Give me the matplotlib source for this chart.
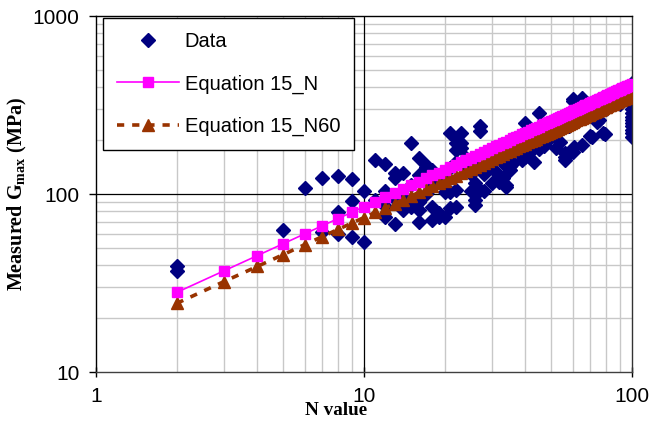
import matplotlib
matplotlib.use('Agg')
import matplotlib.pyplot as plt
from matplotlib.ticker import FixedLocator, NullLocator

# measured data points (N value, Gmax in MPa)
n_data = [2, 2, 5, 6, 7, 7, 8, 8, 8, 9, 9, 9, 10, 10, 11, 11,
          12, 12, 12, 12, 13, 13, 13, 13, 14, 14, 14, 15, 15, 15,
          16, 16, 16, 16, 16, 17, 17, 17, 18, 18, 18, 18, 19, 19, 19,
          20, 20, 20, 21, 21, 21, 21, 22, 22, 22, 22, 22, 22, 23, 23, 23,
          24, 24, 25, 25, 26, 26, 26, 26, 27, 27, 27, 28, 28, 28,
          30, 30, 30, 32, 32, 32, 33, 33, 34, 34, 35, 35, 35, 36, 38, 39,
          40, 40, 40, 42, 43, 43, 45, 45, 47, 47, 50, 50, 52, 54,
          56, 56, 56, 58, 60, 60, 60, 61, 65, 65, 70, 71, 74, 75, 78, 79,
          80, 90, 100, 100, 100, 100, 100, 100, 100, 100, 100, 100, 100,
          100, 100, 100]
g_data = [39.5, 37, 62.7, 108, 123, 61, 126, 79, 60, 121, 91.5, 57.5, 104, 54, 156, 92,
          148, 104, 74, 86, 132, 123, 68, 94, 132, 81, 98, 193, 112, 85,
          159, 70, 81, 90, 128, 146, 142, 100, 85, 71, 110, 136, 74, 78, 120,
          74, 102, 125, 220, 102, 84, 140, 206, 193, 177, 105, 85, 152, 181, 193, 220,
          160, 145, 104, 130, 115, 87, 92, 150, 240, 226, 105, 104, 130, 170,
          115, 140, 180, 128, 117, 160, 123, 150, 112, 110, 143, 136, 165, 150, 170, 156,
          162, 250, 190, 175, 152, 200, 286, 180, 189, 185, 210, 230, 181, 197,
          162, 155, 169, 240, 340, 173, 334, 184, 347, 189, 211, 210, 255, 262, 220, 217,
          300, 320, 210, 220, 230, 240, 250, 260, 270, 285, 300, 320, 340,
          370, 400, 420]

# Equation 15 curves, read at each integer N
n_eq = list(range(2, 101))
g_eq_n = [28.0, 37.0, 45.1, 52.6, 59.7, 66.4, 72.8, 78.9, 84.9, 90.6,
          96.2, 101.7, 107.0, 112.2, 117.3, 122.3, 127.3, 132.1, 136.8, 141.5,
          146.1, 150.7, 155.2, 159.6, 163.9, 168.3, 172.5, 176.8, 180.9, 185.1,
          189.2, 193.2, 197.2, 201.2, 205.2, 209.1, 213.0, 216.8, 220.6, 224.4,
          228.2, 231.9, 235.6, 239.3, 242.9, 246.5, 250.2, 253.7, 257.3, 260.8,
          264.3, 267.8, 271.3, 274.7, 278.2, 281.6, 285.0, 288.3, 291.7, 295.0,
          298.4, 301.7, 305.0, 308.2, 311.5, 314.7, 318.0, 321.2, 324.4, 327.6,
          330.8, 333.9, 337.1, 340.2, 343.3, 346.4, 349.5, 352.6, 355.7, 358.8,
          361.8, 364.8, 367.8, 370.8, 373.8, 376.8, 379.8, 382.8, 385.7, 388.6,
          391.6, 394.5, 397.5, 400.4, 403.3, 406.2, 409.0, 411.9, 414.8]
g_eq_n60 = [24.3, 32.2, 39.2, 45.7, 51.9, 57.7, 63.3, 68.6, 73.8, 78.8,
            83.6, 88.4, 93.0, 97.5, 102.0, 106.3, 110.7, 114.8, 118.9, 123.0,
            127.0, 131.0, 134.9, 138.7, 142.5, 146.3, 150.0, 153.7, 157.3, 160.9,
            164.5, 167.9, 171.4, 174.9, 178.4, 181.8, 185.2, 188.5, 191.8, 195.1,
            198.4, 201.6, 204.8, 208.0, 211.2, 214.3, 217.5, 220.5, 223.7, 226.7,
            229.8, 232.8, 235.8, 238.8, 241.8, 244.8, 247.8, 250.6, 253.6, 256.4,
            259.4, 262.3, 265.1, 267.9, 270.8, 273.6, 276.4, 279.2, 282.0, 284.8,
            287.6, 290.3, 293.0, 295.7, 298.4, 301.1, 303.8, 306.5, 309.2, 311.9,
            314.5, 317.1, 319.7, 322.3, 324.9, 327.6, 330.2, 332.8, 335.3, 337.8,
            340.4, 342.9, 345.5, 348.1, 350.6, 353.1, 355.5, 358.1, 360.6]

x_ticks = [1, 10, 100]
y_ticks = [10, 100, 1000]

plt.rcParams['font.family'] = ['Liberation Sans', 'DejaVu Sans']

fig = plt.figure(figsize=(6.5, 4.24), dpi=100)
ax = fig.add_axes([0.1477, 0.1226, 0.8246, 0.8396])

ax.set_xscale('log')
ax.set_yscale('log')
ax.set_xlim(1, 100)
ax.set_ylim(10, 1000)

# grid
minor_x = [k * d for d in (1, 10) for k in range(2, 10)]
minor_y = [k * d for d in (10, 100) for k in range(2, 10)]
for v in minor_x:
    ax.axvline(v, color='#c8c8c8', lw=1.0, zorder=0)
for v in minor_y:
    ax.axhline(v, color='#c8c8c8', lw=1.0, zorder=0)
ax.axvline(10, color='black', lw=0.9, zorder=0.5)
ax.axhline(100, color='black', lw=0.9, zorder=0.5)

# series
ax.plot(n_data, g_data, linestyle='none', marker='D', color='#000080',
        markersize=7, label='Data', zorder=2)
ax.plot(n_eq, g_eq_n, color='#ff00ff', lw=1.2, marker='s', markersize=7,
        label='Equation 15_N', zorder=4)
ax.plot(n_eq, g_eq_n60, color='#993300', lw=2.6, linestyle=(0, (2, 2.2)),
        marker='^', markersize=8, label='Equation 15_N60', zorder=3)

# ticks
ax.xaxis.set_major_locator(FixedLocator(x_ticks))
ax.yaxis.set_major_locator(FixedLocator(y_ticks))
ax.xaxis.set_minor_locator(NullLocator())
ax.yaxis.set_minor_locator(NullLocator())
ax.set_xticklabels([str(v) for v in x_ticks])
ax.set_yticklabels([str(v) for v in y_ticks])
ax.tick_params(axis='x', direction='inout', length=7, width=1, pad=7,
               labelsize=15, colors='black')
ax.tick_params(axis='y', direction='out', length=5, width=1, pad=7,
               labelsize=15)

for side in ('top', 'left'):
    ax.spines[side].set_linewidth(1.0)
    ax.spines[side].set_color('black')
ax.spines['right'].set_linewidth(1.0)
ax.spines['right'].set_color('#333333')
ax.spines['bottom'].set_linewidth(1.0)
ax.spines['bottom'].set_color('#404040')

# labels
ax.set_xlabel('N value', family=['Liberation Serif'], fontweight='bold',
              fontsize=13.8)
ax.xaxis.set_label_coords(0.448, -0.084)
ax.xaxis.label.set_va('top')
ax.set_ylabel('Measured G$_{\\mathregular{max}}$ (MPa)',
              family=['Liberation Serif'], fontweight='bold', fontsize=14.5)
ax.yaxis.set_label_coords(-0.125, 0.5)

leg = ax.legend(loc='upper left', bbox_to_anchor=(0.0135, 0.994),
                fontsize=14.5, frameon=True, fancybox=False, framealpha=1,
                edgecolor='black', borderpad=0.7, labelspacing=1.15,
                handlelength=3.05, handletextpad=0.3, borderaxespad=0)
leg.get_frame().set_linewidth(1.0)

fig.savefig('out.png', dpi=100)
